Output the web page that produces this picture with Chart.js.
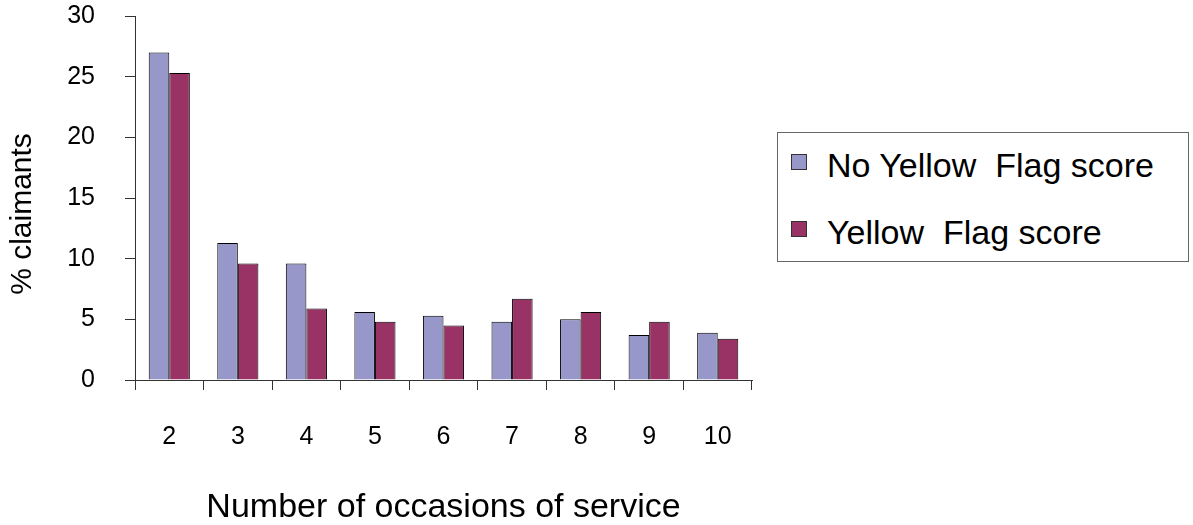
<!DOCTYPE html>
<html lang="en">
<head>
    <meta charset="UTF-8">
    <title>Occasions of service</title>
    <script src="https://cdn.jsdelivr.net/npm/chart.js"></script>
    <style>
        body {
            margin: 0;
            background: #ffffff;
            font-family: "Liberation Sans", Arial, sans-serif;
        }
        #wrap {
            position: relative;
            width: 1193px;
            height: 525px;
        }
        #legend {
            position: absolute;
            left: 777px;
            top: 132px;
            width: 410px;
            height: 128px;
            border: 1px solid #666;
            background: #fff;
        }
        .item {
            position: absolute;
            left: 0;
            height: 40px;
            font-size: 34px;
            line-height: 34px;
            color: #000;
            white-space: pre;
        }
        .swatch {
            position: absolute;
            left: 13px;
            top: 5px;
            width: 14px;
            height: 14px;
            border: 1px solid #333;
        }
        .item span {
            position: absolute;
            left: 49px;
            top: 0;
        }
    </style>
</head>
<body>
<div id="wrap">
    <canvas id="chart" width="1193" height="525"></canvas>
    <div id="legend"></div>
</div>
<script>
    // values
    const occasions = ['2', '3', '4', '5', '6', '7', '8', '9', '10'];
    const noFlag = [27.0, 11.3, 9.6, 5.6, 5.3, 4.8, 5.0, 3.7, 3.9];
    const flag = [25.3, 9.6, 5.9, 4.8, 4.5, 6.7, 5.6, 4.8, 3.4];
    const seriesNames = ['No Yellow  Flag score', 'Yellow  Flag score'];
    const seriesColors = ['#9797c9', '#993366'];

    const fontFam = '"Liberation Sans", Arial, sans-serif';

    // y title drawn by hand so it sits where the original has it
    const yTitle = {
        id: 'yTitle',
        afterDraw(chart) {
            const c = chart.ctx;
            c.save();
            c.translate(23, 214);
            c.rotate(-Math.PI / 2);
            c.font = '30px ' + fontFam;
            c.fillStyle = '#000';
            c.textAlign = 'center';
            c.textBaseline = 'middle';
            c.fillText('% claimants', 0, 0);
            c.restore();
        }
    };

    const ctx = document.getElementById('chart').getContext('2d');
    new Chart(ctx, {
        type: 'bar',
        data: {
            labels: occasions,
            datasets: [noFlag, flag].map((d, i) => ({
                label: seriesNames[i],
                data: d,
                backgroundColor: seriesColors[i],
                borderColor: '#000',
                borderWidth: 1,
                categoryPercentage: 0.6,
                barPercentage: 1.0
            }))
        },
        options: {
            responsive: false,
            animation: false,
            layout: { padding: { top: 16, right: 441, bottom: 0, left: 0 } },
            plugins: {
                legend: { display: false },
                tooltip: { enabled: false }
            },
            scales: {
                x: {
                    afterFit(scale) { scale.height = 145; },
                    border: { color: '#333', width: 1 },
                    grid: {
                        offset: true,
                        drawOnChartArea: false,
                        drawTicks: true,
                        tickLength: 10,
                        color: '#333'
                    },
                    ticks: {
                        color: '#000',
                        padding: 32,
                        font: { family: fontFam, size: 25 }
                    },
                    title: {
                        display: true,
                        text: 'Number of occasions of service',
                        color: '#000',
                        padding: { top: 0, bottom: 0 },
                        font: { family: fontFam, size: 34, lineHeight: 1.0 }
                    }
                },
                y: {
                    min: 0,
                    max: 30,
                    afterFit(scale) {
                        scale.width = 135;
                        scale.paddingTop = 0;
                        scale.paddingBottom = 0;
                    },
                    border: { color: '#333', width: 1 },
                    grid: {
                        drawOnChartArea: false,
                        drawTicks: true,
                        tickLength: 10,
                        color: '#333'
                    },
                    ticks: {
                        stepSize: 5,
                        color: '#000',
                        padding: 30,
                        font: { family: fontFam, size: 25 }
                    }
                }
            }
        },
        plugins: [yTitle]
    });

    // legend box like the original
    const legend = document.getElementById('legend');
    seriesNames.forEach((name, i) => {
        const item = document.createElement('div');
        item.className = 'item';
        item.style.top = (15 + i * 67) + 'px';
        const sw = document.createElement('div');
        sw.className = 'swatch';
        sw.style.background = seriesColors[i];
        sw.style.top = '6px';
        const txt = document.createElement('span');
        txt.textContent = name;
        item.appendChild(sw);
        item.appendChild(txt);
        legend.appendChild(item);
    });
</script>
</body>
</html>
